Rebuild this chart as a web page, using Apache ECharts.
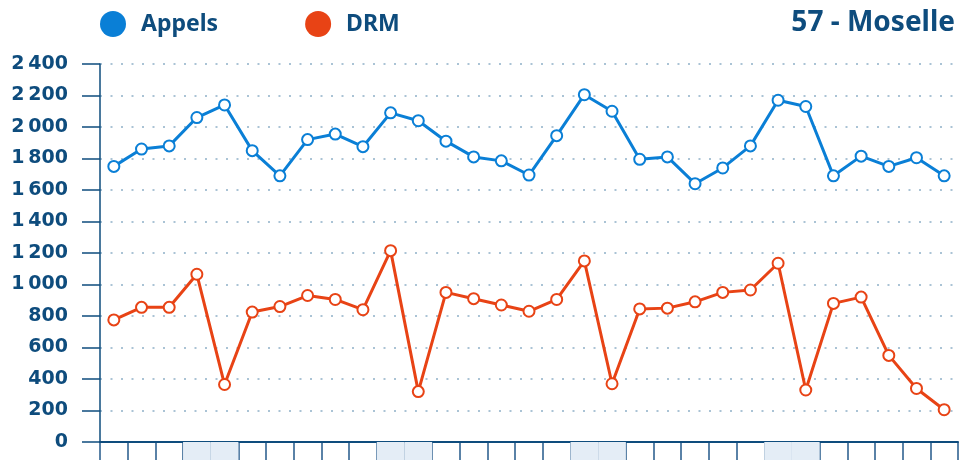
<!DOCTYPE html>
<html><head><meta charset="utf-8">
<script src="https://cdn.jsdelivr.net/npm/echarts@6/dist/echarts.min.js"></script>
<style>html,body{margin:0;padding:0;background:#fff}#c{width:960px;height:460px}</style>
</head><body><div id="c"></div>
<script>
const days = Array.from({length:31},(_,i)=>String(i+1));
const appels = [1750,1860,1880,2060,2140,1850,1690,1920,1955,1875,2090,2040,1910,1810,1785,1695,1945,2205,2100,1795,1810,1640,1740,1880,2170,2130,1690,1815,1750,1805,1690];
const drm = [775,855,855,1065,365,825,860,930,905,840,1215,320,950,910,870,830,905,1150,370,845,850,890,950,965,1135,330,880,920,550,340,205];
const weekendIdx = [3,4,10,11,17,18,24,25];
const title = '57 - Moselle';
const seriesNames = ['Appels','DRM'];

const BLUE='#0a7fd6', RED='#e84315', DARK='#0e4c7d';
const FONT='"Noto Sans", sans-serif';
const weekend = days.map((d,i)=>weekendIdx.includes(i)?1:null);

const chart = echarts.init(document.getElementById('c'),null,{renderer:'canvas'});
chart.setOption({
  animation:false,
  title:{text:title,right:5,top:9,padding:0,textStyle:{fontFamily:FONT,fontWeight:'bold',fontSize:28,color:DARK}},
  legend:{left:100,top:11,padding:0,itemWidth:26,itemHeight:26,itemGap:87,icon:'circle',
    textStyle:{fontFamily:FONT,fontWeight:'bold',fontSize:23,color:DARK,padding:[0,0,0,10]},
    data:[{name:seriesNames[0],itemStyle:{color:BLUE}},{name:seriesNames[1],itemStyle:{color:RED}}]},
  grid:[{left:100,right:2,top:64,bottom:18},{left:100,right:2,top:442,bottom:0}],
  xAxis:[
    {type:'category',gridIndex:0,data:days,boundaryGap:true,
     axisLine:{show:true,lineStyle:{color:DARK,width:2}},axisTick:{show:false},axisLabel:{show:false},splitLine:{show:false}},
    {type:'category',gridIndex:1,data:days,boundaryGap:true,
     axisLine:{show:false},axisTick:{show:false},axisLabel:{show:false},
     splitLine:{show:true,interval:0,lineStyle:{color:'#23598a',width:1.5}}}
  ],
  yAxis:[
    {type:'value',gridIndex:0,min:0,max:2400,interval:200,
     axisLine:{show:true,lineStyle:{color:DARK,width:1.5}},
     axisTick:{show:true,length:18,lineStyle:{color:DARK,width:1.5}},
     axisLabel:{margin:32,fontFamily:'"DejaVu Sans", sans-serif',fontWeight:'bold',fontSize:19,color:DARK,
       formatter:v=>String(v).replace(/\B(?=(\d{3})+(?!\d))/g,'\u202f')},
     splitLine:{show:true,lineStyle:{color:'#8fb0c8',width:1.5,type:[2,8.5]}}},
    {type:'value',gridIndex:1,min:0,max:1,show:false}
  ],
  series:[
    {type:'bar',xAxisIndex:1,yAxisIndex:1,data:weekend,barWidth:'100%',itemStyle:{color:'#e4edf6'},silent:true,z:1},
    {name:seriesNames[0],type:'line',data:appels,symbol:'emptyCircle',symbolSize:11,
     lineStyle:{color:BLUE,width:3},itemStyle:{color:BLUE,borderWidth:2.5},z:3},
    {name:seriesNames[1],type:'line',data:drm,symbol:'emptyCircle',symbolSize:11,
     lineStyle:{color:RED,width:3},itemStyle:{color:RED,borderWidth:2.5},z:3}
  ]
});
</script></body></html>
